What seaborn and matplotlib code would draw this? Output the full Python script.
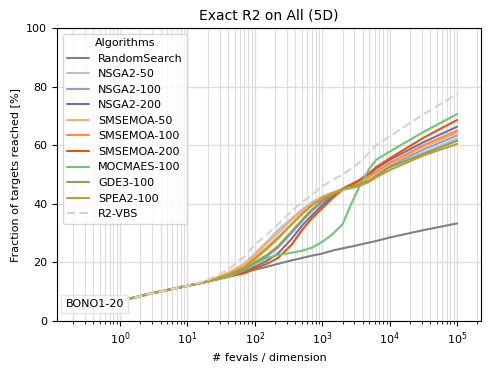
import numpy as np
import pandas as pd
import matplotlib
matplotlib.use('Agg')
import matplotlib.pyplot as plt
import seaborn as sns

sns.set_style('ticks', {'axes.edgecolor': 'black', 'text.color': 'black',
                        'axes.labelcolor': 'black', 'xtick.color': 'black',
                        'ytick.color': 'black'})

fevals = [0.2, 0.5, 1, 3, 10, 20, 40, 70, 100, 150, 220, 350, 500, 700, 1000, 1400,
          2000, 2700, 3500, 5000, 6300, 10000, 31600, 100000]

early = [4, 5, 6.8, 9.5, 12, 13.5]
random_search = early + [15, 16.5, 17.5, 18.5, 19.5, 20.7, 21.5, 22.3, 23, 24, 24.8, 25.4, 26, 26.8, 27.3, 28.5, 31, 33.3]
nsga2_50 = early + [16, 19.5, 23, 27, 31, 35, 38, 40.5, 42.5, 43.8, 45, 45.8, 46.5, 48, 49.5, 52.5, 57.5, 62.2]
nsga2_100 = early + [15.5, 17, 19.5, 22, 25, 30, 34, 37.5, 40.5, 42.8, 45, 46, 47, 49, 50.5, 53, 58.5, 63.3]
nsga2_200 = early + [15.3, 16.5, 18.5, 20.5, 23, 28, 32.5, 36, 39.5, 42.5, 45.2, 46.7, 48, 50, 52, 55, 61, 66.3]
smsemoa_50 = early + [16.5, 19.5, 22.5, 26.5, 30, 34.5, 37.5, 40, 42.3, 43.8, 45, 46, 47, 49, 50.5, 53.5, 59.5, 64.3]
smsemoa_100 = early + [15.8, 18, 21, 24.5, 28, 33, 36.5, 39.5, 41.5, 43.2, 45, 46.3, 47.5, 49.5, 51, 54, 60, 65]
smsemoa_200 = early + [15.2, 16.3, 18, 19.5, 21.5, 26, 31, 35, 38.5, 41.8, 44.8, 46.5, 48, 50.5, 52.5, 55.5, 62.5, 68.6]
mocmaes_100 = early + [15, 17.5, 19.5, 21.5, 22.5, 23.3, 24, 25, 27, 29.5, 33, 40, 45.5, 52, 55, 57.8, 64.5, 70.6]
gde3_100 = early + [15.5, 17.5, 20, 22.5, 25.5, 30.5, 34.5, 38, 41, 43, 45, 45.8, 46.5, 48, 49.5, 52.5, 57, 61.5]
spea2_100 = early + [15.8, 18.5, 21.5, 25, 28.5, 33, 36.5, 39.5, 42, 43.5, 44.8, 45.4, 46, 47.5, 49, 51.5, 56.5, 60.4]
r2_vbs = early[:5] + [14, 17.5, 22, 26, 29.5, 33, 37.5, 40.5, 43, 46, 48, 50, 52, 54, 57.5, 60, 63, 70.5, 77.5]

series = {
    'RandomSearch': random_search,
    'NSGA2-50': nsga2_50,
    'NSGA2-100': nsga2_100,
    'NSGA2-200': nsga2_200,
    'SMSEMOA-50': smsemoa_50,
    'SMSEMOA-100': smsemoa_100,
    'SMSEMOA-200': smsemoa_200,
    'MOCMAES-100': mocmaes_100,
    'GDE3-100': gde3_100,
    'SPEA2-100': spea2_100,
    'R2-VBS': r2_vbs,
}

colors = {
    'RandomSearch': '#808080',
    'NSGA2-50': '#bcbddc',
    'NSGA2-100': '#9e9ac8',
    'NSGA2-200': '#756bb1',
    'SMSEMOA-50': '#fdae6b',
    'SMSEMOA-100': '#fd8d3c',
    'SMSEMOA-200': '#e6550d',
    'MOCMAES-100': '#74c476',
    'GDE3-100': '#8ca252',
    'SPEA2-100': '#bd9e39',
    'R2-VBS': '#d3d3d3',
}
dashes = {k: '' for k in series}
dashes['R2-VBS'] = (4, 2)

df = pd.concat([pd.DataFrame({'fevals': fevals, 'frac': v, 'Algorithm': k})
                for k, v in series.items()], ignore_index=True)

fig = plt.figure(figsize=(4.93, 3.7), dpi=100)
ax = fig.add_axes([0.1156, 0.1324, 0.8601, 0.7919])

sns.lineplot(data=df, x='fevals', y='frac', hue='Algorithm', style='Algorithm',
             palette=colors, dashes=dashes, linewidth=1.5, ax=ax)

ax.set_xscale('log')
ax.set_xticks([1, 10, 100, 1000, 10000, 100000])
ax.set_xlim(10 ** -0.935, 10 ** 5.356)
ax.set_ylim(0, 100)
ax.set_yticks([0, 20, 40, 60, 80, 100])
ax.grid(True, which='major', color='#dddddd', linewidth=1)
ax.grid(True, which='minor', color='#dddddd', linewidth=0.8)
ax.set_axisbelow(True)
ax.tick_params(labelsize=8)
ax.set_xlabel('# fevals / dimension', fontsize=8)
ax.set_ylabel('Fraction of targets reached [%]', fontsize=8)
ax.set_title('Exact R2 on All (5D)', fontsize=10)

leg = ax.legend(title='Algorithms', loc='upper left', fontsize=8, title_fontsize=8)

ax.text(0.02, 0.058, 'BONO1-20', transform=ax.transAxes, fontsize=8, va='center',
        bbox=dict(facecolor='white', edgecolor='#dddddd', alpha=0.8, boxstyle='square,pad=0.4'))

fig.savefig('out.png', dpi=100)
